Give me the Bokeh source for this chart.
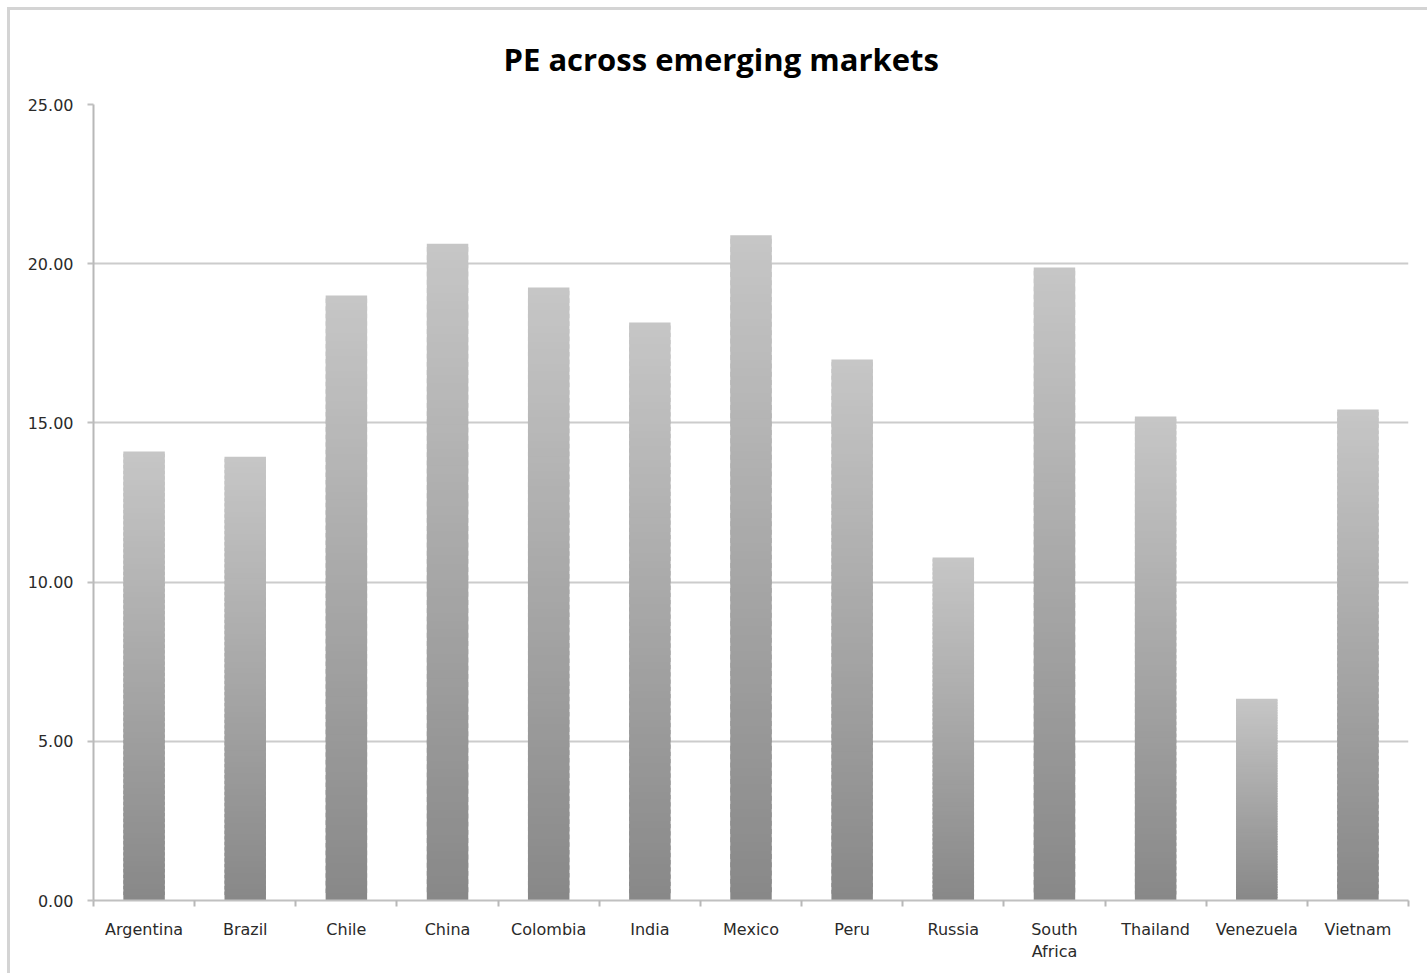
from bokeh.plotting import figure
from bokeh.models import FixedTicker, NumeralTickFormatter, Range1d, Title
from bokeh.embed import file_html
from bokeh.resources import INLINE

countries = ["Argentina", "Brazil", "Chile", "China", "Colombia", "India", "Mexico",
             "Peru", "Russia", "South\nAfrica", "Thailand", "Venezuela", "Vietnam"]
pe = [14.10, 13.94, 19.00, 20.63, 19.25, 18.15, 20.89, 16.99, 10.77, 19.88, 15.20, 6.34, 15.42]
y_ticks = [0, 5, 10, 15, 20, 25]

n = len(countries)
centers = [i + 0.5 for i in range(n)]
bounds = list(range(n + 1))

p = figure(width=1420, height=966, output_backend="svg", toolbar_location=None,
           x_range=Range1d(0, n), y_range=Range1d(0, 25),
           min_border_left=83, min_border_right=22, min_border_top=94, min_border_bottom=76,
           styles={"border-left": "3px solid #d4d4d4", "border-top": "3px solid #d4d4d4",
                   "margin-left": "7px", "margin-top": "7px"})
p.outline_line_color = None
p.background_fill_color = "white"
p.border_fill_color = "white"

t = Title(text="PE across emerging markets", align="left", text_font="Open Sans",
          text_font_size="31px", text_font_style="bold", text_color="#000000",
          offset=410, standoff=49)
p.add_layout(t, "above")

# gradient bars: each bar split into thin overlapping slices, dark at bottom, light at top
N = 80
xs, bots, tops, cols = [], [], [], []
c0, c1 = 0x88, 0xC6
for xc, v in zip(centers, pe):
    for k in range(N):
        f = (k + 0.5) / N
        g = int(round(c0 + (c1 - c0) * f))
        xs.append(xc)
        bots.append(v * k / N)
        tops.append(v * min(k + 1.6, N) / N)
        cols.append("#%02x%02x%02x" % (g, g, g))
p.vbar(x=xs, bottom=bots, top=tops, width=0.41, fill_color=cols, line_color=None)

# axes
p.xaxis.ticker = FixedTicker(ticks=centers, minor_ticks=bounds)
p.xaxis.major_label_overrides = {c: name for c, name in zip(centers, countries)}
p.xaxis.major_tick_out = 0
p.xaxis.major_tick_in = 0
p.xaxis.minor_tick_out = 6
p.xaxis.minor_tick_in = 0
p.xaxis.minor_tick_line_color = "#b8b8b8"
p.xaxis.minor_tick_line_width = 2
p.xaxis.axis_line_color = "#c0c0c0"
p.xaxis.axis_line_width = 2
p.xaxis.major_label_text_font = "DejaVu Sans"
p.xaxis.major_label_text_font_size = "16px"
p.xaxis.major_label_text_color = "#2a2a2a"
p.xaxis.major_label_standoff = 13

p.yaxis.ticker = FixedTicker(ticks=y_ticks)
p.yaxis.formatter = NumeralTickFormatter(format="0.00")
p.yaxis.major_tick_out = 6
p.yaxis.major_tick_in = 0
p.yaxis.minor_tick_line_color = None
p.yaxis.major_tick_line_color = "#c0c0c0"
p.yaxis.major_tick_line_width = 2
p.yaxis.axis_line_color = "#b8b8b8"
p.yaxis.axis_line_width = 2
p.yaxis.major_label_text_font = "DejaVu Sans"
p.yaxis.major_label_text_font_size = "16px"
p.yaxis.major_label_text_color = "#2a2a2a"
p.yaxis.major_label_standoff = 14

p.xgrid.grid_line_color = None
p.ygrid.ticker = FixedTicker(ticks=y_ticks)
p.ygrid.grid_line_color = "#cccccc"
p.ygrid.grid_line_width = 2

open("out.html", "w").write(file_html(p, INLINE))
